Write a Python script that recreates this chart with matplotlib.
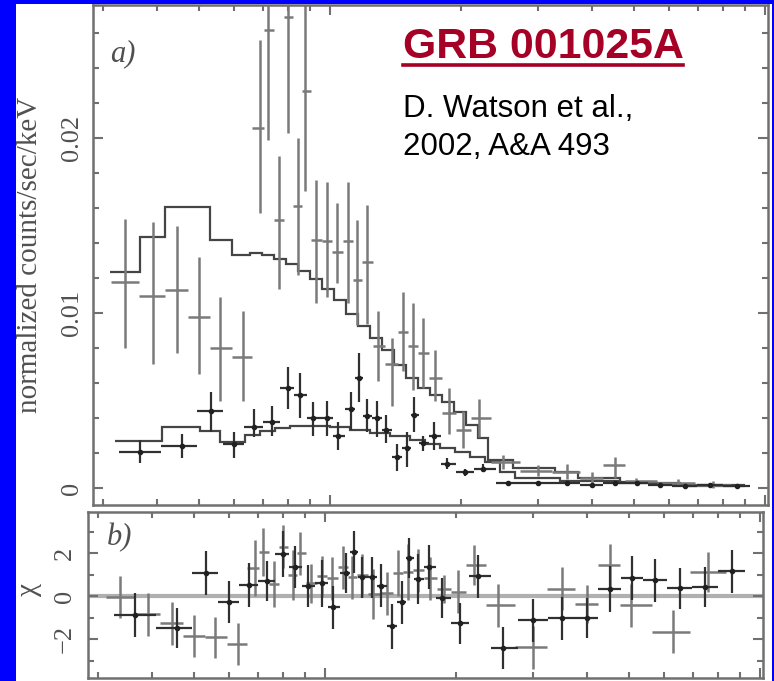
import numpy as np
import matplotlib
matplotlib.use('Agg')
import matplotlib.pyplot as plt
from matplotlib.lines import Line2D
from matplotlib.patches import Rectangle
from matplotlib.ticker import FixedLocator, MultipleLocator, NullFormatter

# ---- data (energy in keV) ----
# EPIC pn channels (grey crosses)
pn_e = [0.338, 0.392, 0.445, 0.500, 0.559, 0.631, 0.691, 0.720, 0.764, 0.801, 0.844, 0.876,
        0.929, 0.984, 1.038, 1.100, 1.154, 1.216, 1.289, 1.388, 1.472, 1.552, 1.637, 1.743,
        1.879, 2.022, 2.200, 2.50, 3.00, 3.51, 4.00, 4.52, 5.05, 6.30, 7.60]
pn_rate = [0.0118, 0.0110, 0.0113, 0.0098, 0.0080, 0.0075, 0.0206, 0.0262, 0.0153, 0.0269, 0.0161, 0.0227,
           0.0142, 0.0141, 0.0135, 0.0141, 0.0119, 0.0129, 0.0081, 0.0071, 0.0089, 0.0081, 0.0077, 0.0063,
           0.0043, 0.0033, 0.0040, 0.0015, 0.0010, 0.0009, 0.0006, 0.0013, 0.0004, 0.0003, 0.0002]
pn_hi = [0.0154, 0.0152, 0.0150, 0.0132, 0.0109, 0.0101, 0.0256, 0.0300, 0.0190, 0.0310, 0.0200, 0.0290,
         0.0176, 0.0175, 0.0163, 0.0175, 0.0153, 0.0162, 0.0101, 0.0086, 0.0112, 0.0106, 0.0097, 0.0079,
         0.0057, 0.0044, 0.0051, 0.0019, 0.0013, 0.0014, 0.0009, 0.0018, 0.0006, 0.0005, 0.0004]
pn_lo = [0.0080, 0.0071, 0.0077, 0.0065, 0.0050, 0.0050, 0.0157, 0.0199, 0.0114, 0.0203, 0.0122, 0.0170,
         0.0106, 0.0109, 0.0117, 0.0106, 0.0093, 0.0094, 0.0061, 0.0047, 0.0067, 0.0056, 0.0057, 0.0050,
         0.0031, 0.0023, 0.0029, 0.0011, 0.0007, 0.0005, 0.0003, 0.0006, 0.0002, 0.0001, 0.0000]
pn_chi = [-0.05, -0.84, -1.26, -1.86, -1.91, -2.23, 1.3, 2.05, 0.56, 2.3, 0.98, 2.0,
          0.6, 0.93, 0.84, 1.35, 0.88, 0.98, 0.09, 0.14, 1.07, 1.1, 1.21, 0.84,
          0.33, 0.19, 1.44, -0.42, -2.37, 0.33, -0.37, 1.44, -0.42, -1.67, 1.12]
pn_chi_err = [0.98, 1.0, 1.0, 0.98, 0.95, 0.98, 1.3, 1.1, 1.05, 1.0, 1.15, 1.0,
              0.9, 0.95, 1.0, 1.0, 1.0, 1.0, 1.15, 1.0, 1.05, 1.3, 1.0, 1.0,
              0.65, 1.0, 0.93, 1.0, 1.0, 1.0, 0.9, 1.0, 1.0, 1.0, 0.93]

# MOS channels (black crosses with dots)
mos_e = [0.366, 0.457, 0.533, 0.602, 0.669, 0.736, 0.801, 0.853, 0.914, 0.984, 1.043, 1.118,
         1.166, 1.216, 1.282, 1.345, 1.426, 1.503, 1.560, 1.637, 1.734, 1.857, 2.043, 2.248,
         2.566, 3.006, 3.51, 4.00, 4.52, 5.08, 5.73, 6.55, 7.47, 8.62]
mos_rate = [0.00206, 0.0024, 0.0044, 0.0025, 0.0035, 0.0038, 0.0057, 0.0053, 0.0040, 0.0040, 0.0030, 0.0045,
            0.0063, 0.0041, 0.0040, 0.0033, 0.0018, 0.0023, 0.0042, 0.0026, 0.0030, 0.0014, 0.0009, 0.0011,
            0.0003, 0.0003, 0.0003, 0.00017, 0.0003, 0.0003, 0.00017, 0.00011, 0.00017, 0.00011]
mos_hi = [0.00274, 0.0031, 0.0055, 0.0032, 0.0045, 0.0047, 0.0069, 0.0066, 0.0049, 0.0050, 0.0038, 0.0055,
          0.0077, 0.0051, 0.0050, 0.0042, 0.0025, 0.0032, 0.0052, 0.0030, 0.0038, 0.0017, 0.0011, 0.0014,
          0.0004, 0.0004, 0.0004, 0.00025, 0.0004, 0.0004, 0.00025, 0.00017, 0.00023, 0.00016]
mos_lo = [0.00143, 0.0017, 0.0032, 0.0017, 0.0029, 0.0030, 0.0045, 0.0040, 0.0030, 0.0030, 0.0022, 0.0033,
          0.0049, 0.0032, 0.0029, 0.0026, 0.0010, 0.0012, 0.0032, 0.0021, 0.0022, 0.0011, 0.0007, 0.0009,
          0.0002, 0.0002, 0.0002, 0.0001, 0.0002, 0.0002, 0.0001, 0.00006, 0.0001, 0.00006]
mos_chi = [-0.88, -1.49, 1.07, -0.28, 0.51, 0.70, 1.95, 1.35, 0.47, 0.6, -0.51, 1.07,
           2.05, 0.88, 0.88, 0.47, -1.40, -0.28, 1.77, 0.8, 1.35, -0.09, -1.26, 0.93,
           -2.42, -1.12, -1.02, -1.02, 0.33, 0.84, 0.74, 0.37, 0.42, 1.16]
mos_chi_err = [1.0, 0.93, 1.02, 0.98, 1.02, 0.93, 1.07, 0.98, 0.98, 1.1, 1.0, 0.95,
               0.98, 0.95, 0.95, 1.0, 1.05, 1.0, 0.95, 1.15, 1.02, 0.93, 0.95, 1.0,
               0.98, 1.0, 1.0, 0.93, 1.05, 1.02, 1.0, 0.95, 0.95, 1.0]

# folded models (step histograms)
pn_model_edges = [0.312, 0.366, 0.418, 0.530, 0.595, 0.655, 0.698, 0.743, 0.792, 0.844, 0.900,
                  0.958, 1.021, 1.088, 1.160, 1.236, 1.317, 1.403, 1.495, 1.593, 1.698, 1.809,
                  1.928, 2.054, 2.189, 2.308, 2.634, 3.290, 3.717, 4.642, 5.440, 6.723, 8.995]
pn_model = [0.01234, 0.01434, 0.01606, 0.01417, 0.01331, 0.01343, 0.01331, 0.01309, 0.01280, 0.01240,
            0.01194, 0.01137, 0.01074, 0.00994, 0.00926, 0.00857, 0.00789, 0.00703, 0.00629, 0.00571,
            0.00531, 0.00491, 0.00434, 0.00360, 0.00286, 0.00160, 0.00114, 0.00091, 0.00057, 0.00034,
            0.00023, 0.00011]
mos_model_edges = [0.321, 0.411, 0.503, 0.559, 0.638, 0.691, 0.748, 0.809, 1.000, 1.112, 1.236, 1.374,
                   1.527, 1.653, 1.790, 1.938, 2.098, 2.271, 2.458, 2.663, 3.377, 4.642, 6.371, 8.995]
mos_model = [0.00269, 0.00349, 0.00326, 0.00263, 0.00303, 0.00326, 0.00343, 0.00354, 0.00349, 0.00331,
             0.00314, 0.00297, 0.00274, 0.00251, 0.00229, 0.00206, 0.00177, 0.00149, 0.00091, 0.00057,
             0.00040, 0.00029, 0.00017]

W, H = 774, 681


def fx(px):
    return px / W


def fy(py):
    return 1 - py / H


def bin_halfwidths(e):
    # channel edges half way (in log) between neighbours
    le = np.log10(e)
    mid = (le[1:] + le[:-1]) / 2
    lo = np.concatenate([[2 * le[0] - mid[0]], mid])
    hi = np.concatenate([mid, [2 * le[-1] - mid[-1]]])
    e = np.asarray(e)
    return [e - 10 ** lo, 10 ** hi - e]


plt.rcParams['font.family'] = ['Liberation Serif', 'DejaVu Serif']
grey_txt = '#505050'
spine_c = '#707070'

fig = plt.figure(figsize=(W / 100, H / 100), dpi=100, facecolor='#0000ff')
# white page on the blue slide background
fig.patches.append(Rectangle((fx(16), 0), fx(772) - fx(16), fy(4), transform=fig.transFigure,
                             facecolor='white', edgecolor='none', zorder=-10))

ax1 = fig.add_axes([fx(93), fy(505), fx(768) - fx(93), fy(5) - fy(505)])
ax2 = fig.add_axes([fx(88), fy(678), fx(763) - fx(88), fy(512) - fy(678)])

pn_xerr = bin_halfwidths(pn_e)
mos_xerr = bin_halfwidths(mos_e)
pn_r = np.array(pn_rate)
mos_r = np.array(mos_rate)

# top panel: spectra and models
ax1.errorbar(pn_e, pn_rate, xerr=pn_xerr, yerr=[pn_r - np.array(pn_lo), np.array(pn_hi) - pn_r],
             fmt='none', ecolor='#7a7a7a', elinewidth=1.8, capsize=0)
ax1.stairs(pn_model, pn_model_edges, baseline=None, color='#454545', lw=1.6)
ax1.stairs(mos_model, mos_model_edges, baseline=None, color='#454545', lw=1.6)
ax1.errorbar(mos_e, mos_rate, xerr=mos_xerr, yerr=[mos_r - np.array(mos_lo), np.array(mos_hi) - mos_r],
             fmt='o', ms=3, color='#202020', ecolor='#303030', elinewidth=1.6, capsize=0)

# bottom panel: residuals
ax2.axhline(0, color='#b0b0b0', lw=3, zorder=1)
ax2.errorbar(pn_e, pn_chi, xerr=pn_xerr, yerr=pn_chi_err, fmt='none', ecolor='#7a7a7a',
             elinewidth=1.8, capsize=0, zorder=2)
ax2.errorbar(mos_e, mos_chi, xerr=mos_xerr, yerr=mos_chi_err, fmt='o', ms=3, color='#202020',
             ecolor='#303030', elinewidth=1.6, capsize=0, zorder=3)

for ax in (ax1, ax2):
    ax.set_xscale('log')
    ax.set_xlim(0.285, 10.16)
    ax.xaxis.set_major_locator(FixedLocator([1, 10]))
    ax.xaxis.set_minor_locator(FixedLocator([0.3, 0.4, 0.5, 0.6, 0.7, 0.8, 0.9, 2, 3, 4, 5, 6, 7, 8, 9]))
    ax.xaxis.set_major_formatter(NullFormatter())
    ax.xaxis.set_minor_formatter(NullFormatter())
    ax.tick_params(which='both', direction='in', top=True, right=True, color=spine_c, width=1.5,
                   labelsize=19, labelcolor=grey_txt)
    ax.tick_params(which='major', length=7)
    ax.tick_params(which='minor', length=4)
    for s in ax.spines.values():
        s.set_color(spine_c)
        s.set_linewidth(1.8)

ax1.set_ylim(-0.00097, 0.0276)
ax1.yaxis.set_major_locator(FixedLocator([0, 0.01, 0.02]))
ax1.yaxis.set_minor_locator(MultipleLocator(0.002))
ax1.set_yticklabels(['0', '0.01', '0.02'])
ax1.tick_params(axis='y', pad=7)

ax2.set_ylim(-3.81, 3.91)
ax2.yaxis.set_major_locator(FixedLocator([-2, 0, 2]))
ax2.yaxis.set_minor_locator(MultipleLocator(1))
ax2.set_yticklabels(['\u22122', '0', '2'])
ax2.tick_params(axis='y', pad=9)

for ax in (ax1, ax2):
    for lab in ax.get_yticklabels():
        lab.set_rotation(90)
        lab.set_va('center')

# axis labels and panel tags
fig.text(fx(30), fy(255), 'normalized counts/sec/keV', rotation=90, ha='center', va='center',
         fontsize=21, color=grey_txt)
fig.text(fx(29), fy(590), '\u03c7', rotation=90, ha='center', va='center', fontsize=21, color=grey_txt)
fig.text(fx(110), fy(54), 'a)', style='italic', ha='left', va='center', fontsize=22, color=grey_txt)
fig.text(fx(107), fy(538), 'b)', style='italic', ha='left', va='center', fontsize=22, color=grey_txt)

# headline and reference
red = '#a50026'
fig.text(fx(403), fy(58), 'GRB 001025A', family='Liberation Sans', weight='bold', fontsize=30.8,
         color=red, ha='left', va='baseline')
fig.add_artist(Line2D([fx(403), fx(683)], [fy(64.5), fy(64.5)], lw=2.6, color=red))
fig.text(fx(403), fy(117), 'D. Watson et al.,', family='Liberation Sans', fontsize=22.5,
         color='black', ha='left', va='baseline')
fig.text(fx(403), fy(155), '2002, A&A 493', family='Liberation Sans', fontsize=22.5,
         color='black', ha='left', va='baseline')

fig.savefig('out.png', dpi=100, facecolor=fig.get_facecolor())
